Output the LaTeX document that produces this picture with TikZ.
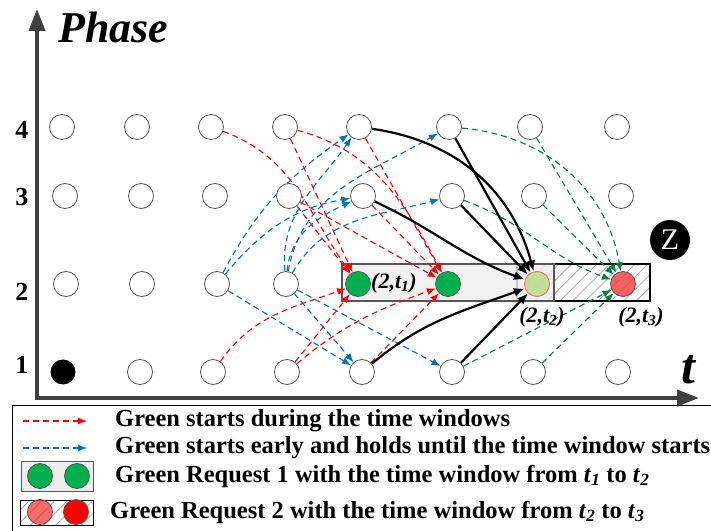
\documentclass[tikz,border=0pt]{standalone}
\usepackage{fontspec}
\setmainfont{Liberation Serif}
\usetikzlibrary{arrows.meta,patterns.meta}

\definecolor{redA}{HTML}{FF0000}
\definecolor{blueA}{HTML}{0070C0}
\definecolor{greenD}{HTML}{00803C}
\definecolor{greenF}{HTML}{00B050}
\definecolor{axisC}{HTML}{404040}
\definecolor{ringC}{HTML}{555555}
\definecolor{boxC}{HTML}{EDEDED}
\definecolor{lightG}{HTML}{B6DE86}
\definecolor{pinkR}{HTML}{FF6A6A}
\definecolor{redF}{HTML}{F23A3A}
\definecolor{hatchC}{HTML}{AAAAAA}

\pgfdeclarelayer{back}
\pgfdeclarelayer{edges}
\pgfsetlayers{back,edges,main}

\tikzset{
  nd/.style={circle, draw=ringC, line width=0.8pt, fill=white, minimum size=25pt, inner sep=0pt},
  gnd/.style={nd, fill=greenF},
  dsh/.style={dash pattern=on 6pt off 4pt, line width=1.1pt, -{Latex[length=9pt,width=7pt]}},
  redarr/.style={dsh, draw=redA},
  bluearr/.style={dsh, draw=blueA},
  greenarr/.style={dsh, draw=greenD},
  blkarr/.style={draw=black, line width=2.2pt, -{Latex[length=11pt,width=9pt]}},
  axisline/.style={draw=axisC, line width=4pt, {Triangle[length=22pt,width=16pt]}-{Triangle[length=22pt,width=16pt]}},
  hatch/.style={pattern={Lines[angle=45,distance=9pt,line width=0.8pt]}, pattern color=hatchC},
  lbl/.style={font=\fontsize{22}{22}\selectfont\bfseries\itshape, inner sep=0pt},
  numlbl/.style={font=\fontsize{26}{26}\selectfont\bfseries, inner sep=0pt},
  legtxt/.style={font=\fontsize{24.5}{28}\selectfont\bfseries, inner sep=0pt, anchor=west},
}

\begin{document}
\begin{tikzpicture}[x=1pt,y=1pt]
\useasboundingbox (0,0) rectangle (711,530);

% ---------- axes ----------
\coordinate (ytop) at (37,521);
\coordinate (orig) at (37,132);
\coordinate (xend) at (699,132);
\draw[axisline] (ytop) -- (orig) -- (xend);
\node[font=\fontsize{44}{44}\selectfont\bfseries\itshape, inner sep=0pt, anchor=base west] (phase) at (58,487) {Phase};
\node[font=\fontsize{50}{50}\selectfont\bfseries\itshape, inner sep=0pt] (tlab) at (688,160) {t};
\node[numlbl] (n4) at (22,400) {4};
\node[numlbl] (n3) at (22,333) {3};
\node[numlbl] (n2) at (22,238) {2};
\node[numlbl] (n1) at (22,165) {1};

% ---------- request windows ----------
\begin{pgfonlayer}{back}
  \path[hatch] (517,229) rectangle (650,266);
  \draw[black, line width=1.2pt] (517,229) rectangle (650,266);
  \fill[boxC, fill opacity=0.85] (342,229) rectangle (554,266);
  \draw[ringC, line width=1.4pt] (342,229) rectangle (554,266);
\end{pgfonlayer}

% ---------- grid of states ----------
\foreach \c/\x in {1/62,2/137,3/211,4/285,5/359,6/449,7/530,8/617}
  \node[nd] (a4\c) at (\x,403) {};
\foreach \c/\x in {1/65,2/141,3/215,4/289,5/363,6/452,7/534,8/621}
  \node[nd] (a3\c) at (\x,334) {};
\foreach \c/\x in {1/66,2/142,3/217,4/286}
  \node[nd] (a2\c) at (\x,246) {};
\node[gnd] (g1) at (358,246) {};
\node[gnd] (g2) at (448,246) {};
\node[circle, draw=pinkR, line width=0.9pt, fill=lightG, fill opacity=0.85, minimum size=25pt, inner sep=0pt] (lg) at (537,246) {};
\node[circle, draw=ringC, line width=0.8pt, fill=redF, fill opacity=0.8, minimum size=25pt, inner sep=0pt] (rd) at (623,246) {};
\node[circle, fill=black, minimum size=25pt, inner sep=0pt] (a11) at (63,158) {};
\foreach \c/\x in {2/140,3/213,4/287,5/362,6/452,7/533,8/618}
  \node[nd] (a1\c) at (\x,158) {};

\node[circle, fill=black, minimum size=40pt, inner sep=0pt, text=white,
      font=\fontsize{30}{30}\selectfont] (zz) at (670,290) {Z};

\node[lbl, anchor=west] (l1) at (371,247) {(2,t\textsubscript{1})};
\node[lbl] (l2) at (542,213) {(2,t\textsubscript{2})};
\node[lbl] (l3) at (641,213) {(2,t\textsubscript{3})};

% ---------- transitions ----------
\begin{pgfonlayer}{edges}
  % green starts inside the window
  \draw[redarr] (a43) to[out=-20,in=125] (g1);
  \draw[redarr] (a44) -- (g1);
  \draw[redarr] (a34) -- (g1);
  \draw[redarr] (a44) to[out=-15,in=118] (g2);
  \draw[redarr] (a45) -- (g2);
  \draw[redarr] (a34) -- (g2);
  \draw[redarr] (a35) -- (g2);
  \draw[redarr] (a13) to[out=55,in=200] (g1);
  \draw[redarr] (a14) -- (g1);
  \draw[redarr] (a14) to[out=40,in=200] (g2);
  \draw[redarr] (a15) -- (g2);
  % green starts early and holds
  \draw[bluearr] (a23) to[out=62,in=215] (a45);
  \draw[bluearr] (a23) to[out=50,in=190] (a35);
  \draw[bluearr] (a23) -- (a15);
  \draw[bluearr] (a24) to[out=95,in=235] (a45);
  \draw[bluearr] (a24) to[out=85,in=205] (a35);
  \draw[bluearr] (a24) to[out=80,in=210] (a46);
  \draw[bluearr] (a24) to[out=60,in=195] (a36);
  \draw[bluearr] (a24) -- (a15);
  \draw[bluearr] (a24) -- (a16);
  % arrivals at (2,t2)
  \draw[blkarr] (a45) to[out=-8,in=105] (lg);
  \draw[blkarr] (a46) -- (lg);
  \draw[blkarr] (a35) to[out=-25,in=160] (lg);
  \draw[blkarr] (a36) -- (lg);
  \draw[blkarr] (a15) to[out=40,in=200] (lg);
  \draw[blkarr] (a16) -- (lg);
  % arrivals at (2,t3)
  \draw[greenarr] (a46) to[out=-5,in=100] (rd);
  \draw[greenarr] (a47) -- (rd);
  \draw[greenarr] (a36) to[out=-20,in=160] (rd);
  \draw[greenarr] (a37) -- (rd);
  \draw[greenarr] (a16) -- (rd);
  \draw[greenarr] (a17) -- (rd);
\end{pgfonlayer}

% ---------- legend ----------
\draw[black, line width=1pt] (12,-10) rectangle (725,125);
\coordinate (r1a) at (23,109); \coordinate (r1b) at (87,109);
\draw[redarr] (r1a) -- (r1b);
\node[legtxt] (t1) at (115,109) {Green starts during the time windows};
\coordinate (b1a) at (23,82); \coordinate (b1b) at (87,82);
\draw[bluearr] (b1a) -- (b1b);
\node[legtxt] (t2) at (115,82) {Green starts early and holds until the time window starts};

\draw[ringC, fill=boxC, line width=1pt] (21,39) rectangle (93,69);
\node[gnd] (e1) at (40,54) {};
\node[gnd] (e2) at (77,54) {};
\node[legtxt] (t3) at (115,54) {Green Request 1 with the time window from \textit{t}\textsubscript{\textit{1}} to \textit{t}\textsubscript{\textit{2}}};

\path[hatch] (20,5) rectangle (93,30);
\draw[black, line width=1pt] (20,5) rectangle (93,30);
\node[circle, draw=ringC, line width=0.8pt, fill=redF, fill opacity=0.75, minimum size=25pt, inner sep=0pt] (e3) at (40,18) {};
\node[circle, draw=ringC, line width=0.8pt, fill=red, minimum size=25pt, inner sep=0pt] (e4) at (76,18) {};
\node[legtxt] (t4) at (110,18) {Green Request 2 with the time window from \textit{t}\textsubscript{\textit{2}} to \textit{t}\textsubscript{\textit{3}}};
\end{tikzpicture}
\end{document}
